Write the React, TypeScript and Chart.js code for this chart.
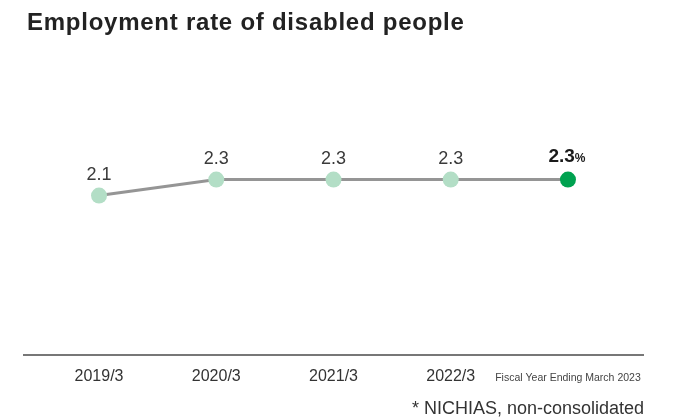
import React, { useEffect, useRef } from "react";
import { Chart, registerables } from "chart.js";

Chart.register(...registerables);

const categories = ["2019/3", "2020/3", "2021/3", "2022/3", "Fiscal Year Ending March 2023"];
const rates = [2.1, 2.3, 2.3, 2.3, 2.3];
const rateLabels = ["2.1", "2.3", "2.3", "2.3", "2.3"];
const unit = "%";

const pointColors = ["#b3dec6", "#b3dec6", "#b3dec6", "#b3dec6", "#00a250"];

const labelPlugin = {
  id: "valueLabels",
  afterDatasetsDraw(chart: any) {
    const ctx = chart.ctx;
    const meta = chart.getDatasetMeta(0);
    ctx.save();
    meta.data.forEach((pt: any, i: number) => {
      const x = pt.x;
      const last = i === rates.length - 1;
      ctx.textBaseline = "alphabetic";
      if (!last) {
        const y = pt.y - 16;
        ctx.font = "18px 'Liberation Sans', Arial, sans-serif";
        ctx.fillStyle = "#3a3a3a";
        ctx.textAlign = "center";
        ctx.fillText(rateLabels[i], x, y);
      } else {
        const y = pt.y - 18;
        ctx.font = "bold 19px 'Liberation Sans', Arial, sans-serif";
        const w1 = ctx.measureText(rateLabels[i]).width;
        ctx.font = "bold 12px 'Liberation Sans', Arial, sans-serif";
        const w2 = ctx.measureText(unit).width;
        const start = x - (w1 + w2) / 2 - 1;
        ctx.textAlign = "left";
        ctx.fillStyle = "#1a1a1a";
        ctx.font = "bold 19px 'Liberation Sans', Arial, sans-serif";
        ctx.fillText(rateLabels[i], start, y);
        ctx.font = "bold 12px 'Liberation Sans', Arial, sans-serif";
        ctx.fillText(unit, start + w1, y);
      }
    });
    ctx.restore();
  },
};

export default function App() {
  const ref = useRef<HTMLCanvasElement | null>(null);
  useEffect(() => {
    if (!ref.current) return;
    const chart = new Chart(ref.current, {
      type: "line",
      data: {
        datasets: [
          {
            data: rates.map((v, i) => ({ x: i, y: v })),
            borderColor: "#959595",
            borderWidth: 3,
            pointRadius: 8,
            pointHoverRadius: 8,
            pointBorderWidth: 0,
            pointBackgroundColor: pointColors,
            tension: 0,
          },
        ],
      },
      options: {
        responsive: false,
        animation: false,
        layout: { padding: { left: 24, right: 35, top: 60, bottom: 0 } },
        plugins: { legend: { display: false }, tooltip: { enabled: false } },
        scales: {
          x: {
            type: "linear",
            min: -0.64,
            max: 4.64,
            grid: { display: false, drawTicks: false },
            border: { display: true, color: "#777777", width: 2 },
            afterBuildTicks: (scale: any) => {
              scale.ticks = categories.map((_, i) => ({ value: i }));
            },
            afterFit: (scale: any) => {
              scale.height = 64;
            },
            ticks: {
              autoSkip: false,
              maxRotation: 0,
              padding: 12,
              color: (c: any) => (c.index === categories.length - 1 ? "#444444" : "#333333"),
              font: (c: any) =>
                c.index === categories.length - 1
                  ? { family: "'Liberation Sans', Arial, sans-serif", size: 10.5, lineHeight: 2.2 }
                  : { family: "'Liberation Sans', Arial, sans-serif", size: 16 },
              callback: (v: any) => categories[v] ?? "",
            },
          },
          y: {
            display: false,
            min: 0.1,
            max: 3.8,
          },
        },
      },
      plugins: [labelPlugin],
    } as any);
    return () => chart.destroy();
  }, []);

  return (
    <div style={{ position: "absolute", left: 0, top: 0, width: 678, height: 419, background: "#fff", overflow: "hidden" }}>
      <canvas ref={ref} width={678} height={419} style={{ position: "absolute", left: 0, top: 0 }} />
      <div
        style={{
          position: "absolute",
          left: 27,
          top: 8,
          fontFamily: "'Liberation Sans', Arial, sans-serif",
          fontWeight: "bold",
          fontSize: 24,
          letterSpacing: 0.75,
          lineHeight: "27px",
          color: "#222",
          whiteSpace: "nowrap",
        }}
      >
        Employment rate of disabled people
      </div>
      <div
        style={{
          position: "absolute",
          right: 34,
          top: 398,
          fontFamily: "'Liberation Sans', Arial, sans-serif",
          fontSize: 18,
          color: "#333",
          whiteSpace: "nowrap",
          lineHeight: "20px",
        }}
      >
        * NICHIAS, non-consolidated
      </div>
    </div>
  );
}
